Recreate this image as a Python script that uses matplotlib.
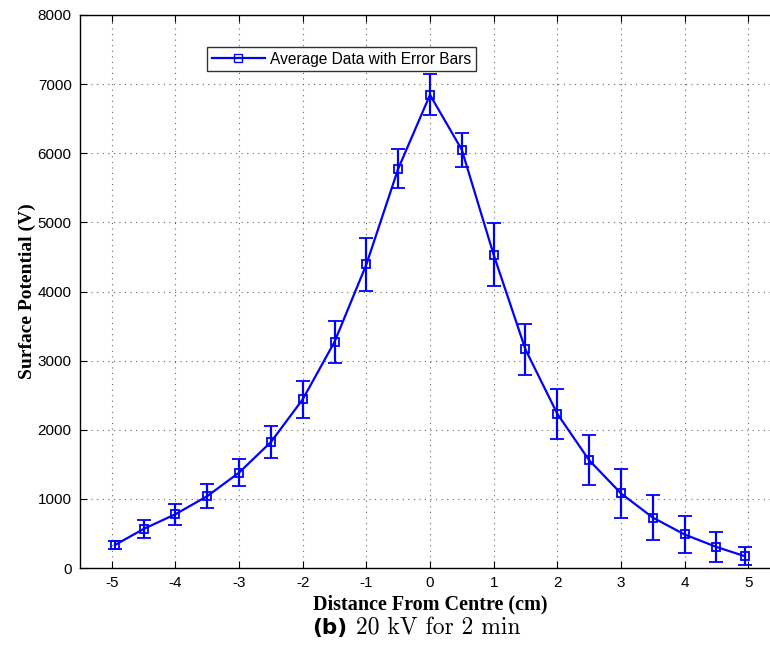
import matplotlib
matplotlib.use("Agg")
import matplotlib.pyplot as plt
from matplotlib.lines import Line2D

# Surface potential profile after charging at 20 kV for 2 min
distance_cm = [-4.95, -4.5, -4.0, -3.5, -3.0, -2.5, -2.0, -1.5, -1.0, -0.5,
               0.0, 0.5, 1.0, 1.5, 2.0, 2.5, 3.0, 3.5, 4.0, 4.5, 4.95]
potential_v = [333, 565, 778, 1040, 1380, 1822, 2440, 3272, 4391, 5775,
               6845, 6050, 4533, 3162, 2232, 1560, 1080, 730, 485, 305, 170]
error_v = [58, 128, 152, 170, 195, 236, 270, 307, 387, 283,
           297, 250, 455, 368, 362, 357, 350, 323, 272, 215, 128]

x_ticks = [-5, -4, -3, -2, -1, 0, 1, 2, 3, 4, 5]
y_ticks = [0, 1000, 2000, 3000, 4000, 5000, 6000, 7000, 8000]

BLUE = "#0000ff"
W, H = 770, 654
fig = plt.figure(figsize=(W / 100, H / 100), dpi=100)
ax = fig.add_axes([80 / W, 1 - 568 / H, 700 / W, 553 / H])
ax.patch.set_edgecolor("none")

ax.errorbar(distance_cm, potential_v, yerr=error_v, color=BLUE,
            linewidth=1.6, elinewidth=1.6, capsize=5, capthick=1.6,
            marker="s", markersize=6, markerfacecolor="none",
            markeredgecolor=BLUE, markeredgewidth=1.3)

ax.set_xlim(-5.5, 5.5)
ax.set_ylim(0, 8000)
ax.set_xticks(x_ticks)
ax.set_xticklabels([str(t) for t in x_ticks])
ax.set_yticks(y_ticks)
ax.set_yticklabels([str(t) for t in y_ticks])
for lbl in ax.get_xticklabels() + ax.get_yticklabels():
    lbl.set_fontfamily("Liberation Sans")
    lbl.set_fontsize(11)

ax.tick_params(direction="in", top=True, right=False, length=5, width=0.8,
               pad=6, colors="black")
ax.grid(True, linestyle=(0, (1, 4)), color="#666666", linewidth=0.8)
for sp in ax.spines.values():
    sp.set_linewidth(1.0)
    sp.set_color("black")
ax.spines["right"].set_visible(False)

ax.set_xlabel("Distance From Centre (cm)",
              fontdict={"family": "Liberation Serif", "weight": "bold", "size": 14.5},
              labelpad=3)
ax.set_ylabel("Surface Potential (V)",
              fontdict={"family": "Liberation Serif", "weight": "bold", "size": 14},
              labelpad=1.5)

handle = Line2D([], [], color=BLUE, linewidth=1.6, marker="s", markersize=6,
                markerfacecolor="none", markeredgecolor=BLUE,
                markeredgewidth=1.0)
leg = ax.legend([handle], ["Average Data with Error Bars"], loc="upper left",
                bbox_to_anchor=((207 - 80) / 700, 1 - (47 - 15) / 553),
                prop={"family": "Liberation Sans", "size": 11.2},
                frameon=True, fancybox=False, edgecolor="black",
                borderpad=0.3, handlelength=3.4, handletextpad=0.35,
                borderaxespad=0.0)
leg.get_frame().set_linewidth(1.0)

fig.text(347 / W, 1 - 628 / H, "(b)", fontsize=15.5, fontweight="bold",
         family="DejaVu Sans", ha="right", va="center")
fig.text(356 / W, 1 - 628 / H, "20 kV for 2 min", fontsize=17,
         family="cmr10", ha="left", va="center")

fig.savefig("out.png", dpi=100)
